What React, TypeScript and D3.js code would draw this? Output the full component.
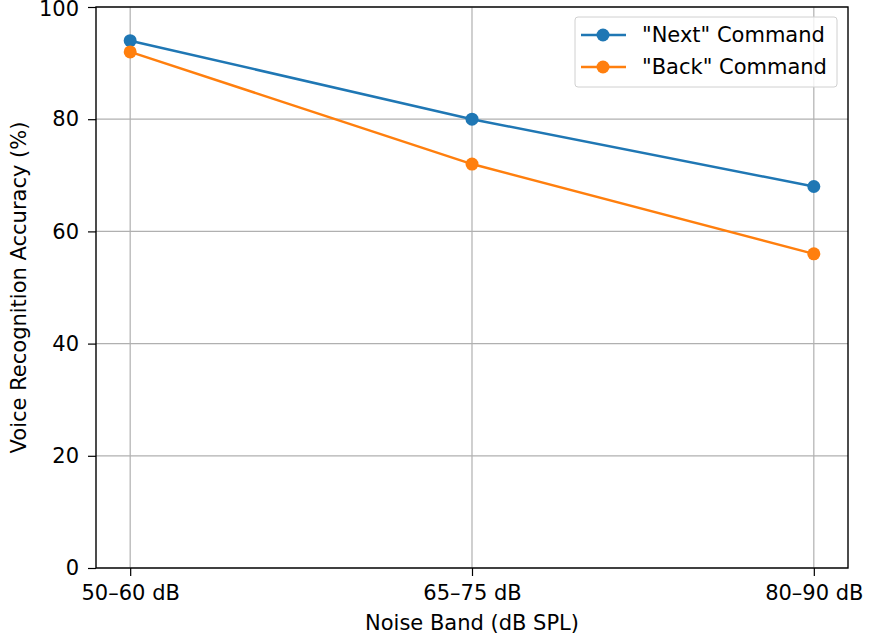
import React, { useEffect, useRef } from 'react';
import * as d3 from 'd3';

const categories = ['50–60 dB', '65–75 dB', '80–90 dB'];
const nextValues = [94, 80, 68];
const backValues = [92, 72, 56];
const yTicks = [0, 20, 40, 60, 80, 100];
const seriesNames = ['"Next" Command', '"Back" Command'];
const seriesColors = ['#1f77b4', '#ff7f0e'];

const W = 869;
const H = 640;

const App: React.FC = () => {
    const svgRef = useRef<SVGSVGElement | null>(null);

    useEffect(() => {
        if (!svgRef.current) return;
        const svg = d3.select(svgRef.current);
        svg.selectAll('*').remove();

        const left = 96;
        const right = 848;
        const top = 7;
        const bottom = 568;
        const font = 'DejaVu Sans, sans-serif';
        const fs = 21;

        // matplotlib-style 5% margins on the category axis
        const n = categories.length - 1;
        const xScale = d3
            .scaleLinear()
            .domain([-0.05 * n, n * 1.05])
            .range([left, right]);
        const yScale = d3.scaleLinear().domain([0, 100]).range([bottom, top]);

        // grid
        svg
            .append('g')
            .selectAll('line')
            .data(categories)
            .enter()
            .append('line')
            .attr('x1', (_, i) => xScale(i))
            .attr('x2', (_, i) => xScale(i))
            .attr('y1', top)
            .attr('y2', bottom)
            .attr('stroke', '#b0b0b0')
            .attr('stroke-width', 1.2);

        svg
            .append('g')
            .selectAll('line')
            .data(yTicks)
            .enter()
            .append('line')
            .attr('x1', left)
            .attr('x2', right)
            .attr('y1', (d) => yScale(d))
            .attr('y2', (d) => yScale(d))
            .attr('stroke', '#b0b0b0')
            .attr('stroke-width', 1.2);

        // axes
        const xAxis = d3
            .axisBottom(xScale)
            .tickValues(categories.map((_, i) => i))
            .tickFormat((d) => categories[d as number])
            .tickSize(8)
            .tickPadding(9);
        const gx = svg.append('g').attr('transform', `translate(0,${bottom})`).call(xAxis);
        gx.select('.domain').remove();

        const yAxis = d3.axisLeft(yScale).tickValues(yTicks).tickSize(8).tickPadding(9);
        const gy = svg.append('g').attr('transform', `translate(${left},0)`).call(yAxis);
        gy.select('.domain').remove();

        [gx, gy].forEach((g) => {
            g.selectAll('text').attr('font-family', font).attr('font-size', fs).attr('fill', '#000');
            g.selectAll('line').attr('stroke', '#000').attr('stroke-width', 1.2);
        });
        // keep the top label inside the page
        gy.selectAll<SVGTextElement, number>('text')
            .filter((d) => d === 100)
            .attr('y', 2);

        svg
            .append('rect')
            .attr('x', left)
            .attr('y', top)
            .attr('width', right - left)
            .attr('height', bottom - top)
            .attr('fill', 'none')
            .attr('stroke', '#000')
            .attr('stroke-width', 1.4);

        // lines
        const line = d3
            .line<number>()
            .x((_, i) => xScale(i))
            .y((d) => yScale(d));

        [nextValues, backValues].forEach((vals, s) => {
            svg
                .append('path')
                .datum(vals)
                .attr('fill', 'none')
                .attr('stroke', seriesColors[s])
                .attr('stroke-width', 2.5)
                .attr('d', line);
            svg
                .append('g')
                .selectAll('circle')
                .data(vals)
                .enter()
                .append('circle')
                .attr('cx', (_, i) => xScale(i))
                .attr('cy', (d) => yScale(d))
                .attr('r', 6.5)
                .attr('fill', seriesColors[s]);
        });

        // axis labels
        svg
            .append('text')
            .attr('x', (left + right) / 2)
            .attr('y', 630)
            .attr('text-anchor', 'middle')
            .attr('font-family', font)
            .attr('font-size', fs)
            .text('Noise Band (dB SPL)');

        svg
            .append('text')
            .attr('transform', `translate(26,${(top + bottom) / 2}) rotate(-90)`)
            .attr('text-anchor', 'middle')
            .attr('font-family', font)
            .attr('font-size', fs)
            .text('Voice Recognition Accuracy (%)');

        // legend
        const legend = svg.append('g');
        legend
            .append('rect')
            .attr('x', 575)
            .attr('y', 17)
            .attr('width', 262)
            .attr('height', 70)
            .attr('rx', 3)
            .attr('fill', 'rgba(255,255,255,0.8)')
            .attr('stroke', '#d0d0d0');

        seriesNames.forEach((name, s) => {
            const cy = 35 + s * 32;
            legend
                .append('line')
                .attr('x1', 581)
                .attr('x2', 626)
                .attr('y1', cy)
                .attr('y2', cy)
                .attr('stroke', seriesColors[s])
                .attr('stroke-width', 2.5);
            legend
                .append('circle')
                .attr('cx', 603)
                .attr('cy', cy)
                .attr('r', 6.5)
                .attr('fill', seriesColors[s]);
            legend
                .append('text')
                .attr('x', 642)
                .attr('y', cy)
                .attr('dy', '0.35em')
                .attr('font-family', font)
                .attr('font-size', fs)
                .text(name);
        });
    }, []);

    return (
        <svg
            ref={svgRef}
            width={W}
            height={H}
            style={{ position: 'absolute', left: 0, top: 0, background: '#fff' }}
        />
    );
};

export default App;
